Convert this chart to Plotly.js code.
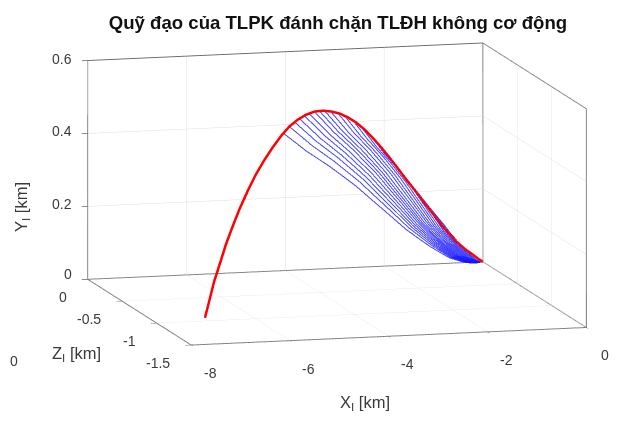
<!DOCTYPE html>
<html>
<head>
<meta charset="utf-8">
<script src="https://cdn.plot.ly/plotly-3.0.1.min.js"></script>
<style>html,body{margin:0;padding:0;background:#fff}#chart{width:619px;height:422px}</style>
</head>
<body>
<div id="chart"></div>
<script>
// Axis ranges (MATLAB X, Z depth, Y height)
var xRange = [-8, 0];
var zRange = [-1.5, 0];
var yRange = [0, 0.6];
var xTicks = [-8, -6, -4, -2, 0];
var zTicks = [0, -0.5, -1, -1.5];
var yTicks = [0, 0.2, 0.4, 0.6];
var xTickText = ['-8', '-6', '-4', '-2', '0'];
var zTickText = ['0', '-0.5', '-1', '-1.5'];
var yTickText = ['0', '0.2', '0.4', '0.6'];

// Target trajectory (red)
var redX = [-6.93,-6.80,-6.70,-6.55,-6.41,-6.25,-6.075,-5.87,-5.66,-5.45,-5.24,-5.03,-4.825,-4.62,-4.41,-4.2,-3.99,-3.78,-3.575,-3.37,-3.16,-2.95,-2.74,-2.53,-2.325,-2.12,-1.91,-1.70,-1.49,-1.28,-1.075,-0.87,-0.66,-0.45,-0.24,-0.1,0];
var redY = [0.0,0.054,0.095,0.143,0.189,0.233,0.278,0.323,0.365,0.400,0.430,0.457,0.478,0.492,0.501,0.505,0.503,0.496,0.486,0.471,0.452,0.428,0.400,0.369,0.337,0.303,0.268,0.234,0.199,0.165,0.130,0.099,0.070,0.045,0.024,0.009,0];
var redZ = [-0.934,-0.917,-0.903,-0.883,-0.864,-0.843,-0.819,-0.791,-0.763,-0.735,-0.706,-0.678,-0.650,-0.623,-0.594,-0.566,-0.538,-0.510,-0.482,-0.454,-0.426,-0.398,-0.369,-0.341,-0.313,-0.286,-0.257,-0.229,-0.201,-0.173,-0.145,-0.117,-0.089,-0.061,-0.032,-0.013,0];

// Interceptor trajectories (blue): intercept points on the red curve
var blueEndX = [-4.975,-4.825,-4.70,-4.575,-4.45,-4.325,-4.20,-4.075,-3.95,-3.80,-3.625,-3.45,-3.25,-3.025,-2.775,-2.50,-2.20,-1.875,-1.525,-1.15,-0.75];
var blueEndY = [0.463,0.478,0.488,0.494,0.499,0.502,0.505,0.504,0.502,0.497,0.489,0.477,0.461,0.436,0.405,0.365,0.316,0.262,0.205,0.142,0.082];
var blueEndZ = [-0.671,-0.650,-0.634,-0.617,-0.600,-0.583,-0.566,-0.549,-0.532,-0.512,-0.489,-0.465,-0.438,-0.408,-0.374,-0.337,-0.297,-0.253,-0.206,-0.155,-0.101];
// Shape of an interceptor path (fraction of the intercept point)
var profileU = [1,0.94,0.886,0.83,0.769,0.70,0.635,0.568,0.50,0.44,0.384,0.325,0.266,0.215,0.166,0.13,0.098,0.065,0.032,0];
var profileV = [1,0.931,0.868,0.811,0.749,0.672,0.599,0.514,0.429,0.353,0.282,0.218,0.155,0.107,0.062,0.041,0.022,0.009,0.001,0];

var traces = [];
for (var k = 0; k < blueEndX.length; k++) {
  traces.push({
    type: 'scatter3d', mode: 'lines', showlegend: false, hoverinfo: 'skip',
    x: profileU.map(function (u) { return u * blueEndX[k]; }),
    y: profileU.map(function (u) { return u * blueEndZ[k]; }),
    z: profileV.map(function (v) { return v * blueEndY[k]; }),
    line: {color: 'rgb(20,20,255)', width: 2.1},
    opacity: 0.75
  });
}
traces.push({
  type: 'scatter3d', mode: 'lines', showlegend: false, hoverinfo: 'skip',
  x: redX, y: redZ, z: redY,
  line: {color: 'rgb(255,0,0)', width: 5}
});

// box frame from the axis ranges
var x0 = xRange[0], x1 = xRange[1], zf = zRange[0], zb = zRange[1], y0 = yRange[0], y1 = yRange[1];
traces.push({
  type: 'scatter3d', mode: 'lines', showlegend: false, hoverinfo: 'skip',
  x: [x0, x0, x0, x1, x1, x1, x0, null, x1, x1, x0, null, x1, x1],
  y: [zf, zb, zb, zb, zf, zf, zf, null, zb, zb, zb, null, zb, zf],
  z: [y0, y0, y1, y1, y1, y0, y0, null, y1, y0, y0, null, y0, y0],
  line: {color: 'rgb(100,100,100)', width: 1.8},
  connectgaps: false
});

var fam = 'Liberation Sans, Arial, Helvetica, sans-serif';
var tickFont = {family: fam, size: 14, color: '#3a3a3a'};
var ann3d = [];
xTicks.forEach(function (v, i) {
  ann3d.push({x: v, y: zRange[0], z: yRange[0], text: xTickText[i], showarrow: false,
    xanchor: 'center', yanchor: 'middle', xshift: 19, yshift: -28, font: tickFont});
});
zTicks.forEach(function (v, i) {
  ann3d.push({x: xRange[0], y: v, z: yRange[0], text: zTickText[i], showarrow: false,
    xanchor: 'right', yanchor: 'middle', xshift: -19, yshift: -18, font: tickFont});
});
yTicks.forEach(function (v, i) {
  ann3d.push({x: xRange[0], y: zRange[1], z: v, text: yTickText[i], showarrow: false,
    xanchor: 'right', yanchor: 'middle', xshift: -14, yshift: (i === 0 ? 5 : 2), font: tickFont});
});

var axCommon = {
  showgrid: true, gridcolor: 'rgb(222,222,222)', gridwidth: 1,
  zeroline: false, showline: false, showticklabels: false,
  ticks: 'outside', ticklen: 6, tickwidth: 1.5, tickcolor: 'rgb(100,100,100)',
  showbackground: false, showspikes: false,
  title: {text: ''}
};
var s = 2.107;
var d = 1.5;
var labFont = {family: fam, size: 16.5, color: '#3a3a3a'};
var layout = {
  width: 619, height: 422,
  margin: {l: 0, r: 0, t: 0, b: 0},
  paper_bgcolor: '#fff',
  showlegend: false,
  title: {text: '<b>Quỹ đạo của TLPK đánh chặn TLĐH không cơ động</b>',
    font: {family: fam, size: 18.6, color: '#111'},
    x: 0.546, xanchor: 'center', y: 0.946, yanchor: 'middle'},
  scene: {
    domain: {x: [0.0888, 1], y: [0.0806, 1]},
    bgcolor: '#fff',
    xaxis: Object.assign({}, axCommon, {range: xRange, tickvals: xTicks, autorange: false}),
    yaxis: Object.assign({}, axCommon, {range: zRange, tickvals: zTicks, autorange: false}),
    zaxis: Object.assign({}, axCommon, {range: yRange, tickvals: yTicks, autorange: false}),
    aspectmode: 'manual',
    aspectratio: {x: 1 * s, y: 0.99 * s, z: 0.543 * s},
    camera: {
      projection: {type: 'orthographic'},
      up: {x: 0, y: 0, z: 1},
      center: {x: 0, y: 0, z: 0},
      eye: {x: -0.2519 * d, y: -0.953 * d, z: 0.168 * d}
    },
    annotations: ann3d
  },
  annotations: [
    {xref: 'paper', yref: 'paper', x: 365 / 619, y: 1 - 403 / 422, xanchor: 'center', yanchor: 'middle',
      text: 'X<sub>I</sub> [km]', showarrow: false, font: labFont},
    {xref: 'paper', yref: 'paper', x: 76 / 619, y: 1 - 354 / 422, xanchor: 'center', yanchor: 'middle',
      text: 'Z<sub>I</sub> [km]', showarrow: false, font: labFont},
    {xref: 'paper', yref: 'paper', x: 22 / 619, y: 1 - 207 / 422, xanchor: 'center', yanchor: 'middle',
      text: 'Y<sub>I</sub> [km]', showarrow: false, textangle: -90, font: labFont},
    {xref: 'paper', yref: 'paper', x: 14 / 619, y: 1 - 361 / 422, xanchor: 'center', yanchor: 'middle',
      text: '0', showarrow: false, font: tickFont}
  ]
};
Plotly.newPlot('chart', traces, layout, {displayModeBar: false});
</script>
</body>
</html>
